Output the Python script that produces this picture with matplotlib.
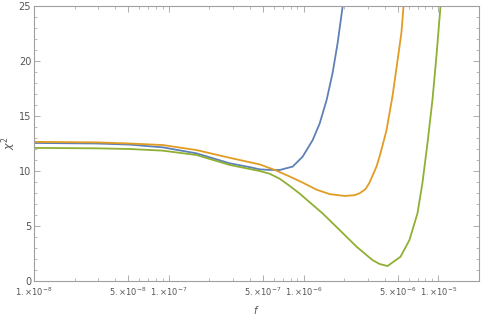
"""
    chi^2 vs f, three curves (Mathematica style)
"""
import matplotlib
matplotlib.use("Agg")
from matplotlib import pyplot as plt
from matplotlib import ticker

plt.rcParams["mathtext.fontset"] = "dejavusans"

# data
f_blue = [1.0e-8, 2.93e-8, 5.14e-8, 9.03e-8, 1.61e-7, 2.83e-7, 3.98e-7, 4.72e-7,
          5.60e-7, 6.64e-7, 8.29e-7, 9.83e-7, 1.166e-6, 1.314e-6, 1.481e-6,
          1.640e-6, 1.786e-6, 1.945e-6, 1.978e-6]
chi_blue = [12.55, 12.5, 12.4, 12.15, 11.6, 10.7, 10.35, 10.15,
            10.1, 10.09, 10.4, 11.3, 12.8, 14.3, 16.45,
            18.9, 21.6, 24.9, 25.5]

f_orange = [1.0e-8, 2.93e-8, 5.14e-8, 9.03e-8, 1.61e-7, 2.83e-7, 4.72e-7, 6.10e-7,
            7.88e-7, 9.83e-7, 1.248e-6, 1.558e-6, 2.012e-6, 2.387e-6, 2.598e-6,
            2.879e-6, 3.083e-6, 3.473e-6, 3.656e-6, 3.848e-6, 4.119e-6, 4.564e-6,
            4.970e-6, 5.319e-6, 5.504e-6, 5.600e-6]
chi_orange = [12.65, 12.6, 12.5, 12.36, 11.9, 11.2, 10.6, 10.1,
              9.5, 8.95, 8.3, 7.9, 7.73, 7.8, 7.97,
              8.35, 8.95, 10.4, 11.3, 12.3, 13.7, 16.8,
              20.0, 22.6, 24.9, 25.6]

f_green = [1.0e-8, 2.93e-8, 5.14e-8, 9.03e-8, 1.61e-7, 2.83e-7, 4.72e-7, 5.60e-7,
           6.64e-7, 7.88e-7, 9.34e-7, 1.052e-6, 1.382e-6, 1.848e-6, 2.470e-6,
           3.245e-6, 3.656e-6, 4.190e-6, 5.229e-6, 6.10e-6, 6.99e-6, 7.61e-6,
           8.29e-6, 9.03e-6, 9.66e-6, 1.035e-5, 1.052e-5]
chi_green = [12.1, 12.06, 12.0, 11.85, 11.45, 10.55, 10.0, 9.75,
             9.3, 8.65, 7.95, 7.4, 6.15, 4.64, 3.12,
             1.9, 1.55, 1.36, 2.2, 3.73, 6.15, 8.9,
             12.5, 16.45, 20.4, 24.9, 25.6]

x_major = [1e-8, 5e-8, 1e-7, 5e-7, 1e-6, 5e-6, 1e-5]
x_labels = [r"$1.{\times}10^{-8}$", r"$5.{\times}10^{-8}$", r"$1.{\times}10^{-7}$",
            r"$5.{\times}10^{-7}$", r"$1.{\times}10^{-6}$", r"$5.{\times}10^{-6}$",
            r"$1.{\times}10^{-5}$"]

fig = plt.figure(figsize=(4.85, 3.18), dpi=100)
ax = fig.add_axes([34 / 485, 37 / 318, 445 / 485, 275 / 318])

ax.plot(f_blue, chi_blue, color="#5E81B5", lw=1.3)
ax.plot(f_orange, chi_orange, color="#E19C24", lw=1.3)
ax.plot(f_green, chi_green, color="#8FB032", lw=1.3)

ax.set_xscale("log")
ax.set_xlim(1e-8, 2e-5)
ax.set_ylim(0, 25)

ax.xaxis.set_major_locator(ticker.FixedLocator(x_major))
ax.xaxis.set_major_formatter(ticker.FixedFormatter(x_labels))
ax.xaxis.set_minor_locator(ticker.LogLocator(base=10, subs=range(1, 10), numticks=20))
ax.xaxis.set_minor_formatter(ticker.NullFormatter())
ax.yaxis.set_major_locator(ticker.MultipleLocator(5))
ax.yaxis.set_minor_locator(ticker.MultipleLocator(1))

for s in ax.spines.values():
    s.set_color("#a0a0a0")
    s.set_linewidth(0.8)
ax.tick_params(which="both", direction="in", top=True, right=True,
               color="#a0a0a0", labelcolor="#555555", pad=2)
ax.tick_params(axis="x", labelsize=6, pad=3)
ax.tick_params(axis="y", labelsize=7)
ax.tick_params(which="major", length=4, width=0.6)
ax.tick_params(which="minor", length=2, width=0.5)

ax.set_xlabel("$f$", color="#555555", fontsize=7)
ax.xaxis.set_label_coords(0.5, -0.085)
ax.set_ylabel(r"$\chi^2$", color="#555555", fontsize=8)
ax.yaxis.set_label_coords(-0.036, 0.5)

plt.savefig("out.png", dpi=100)
